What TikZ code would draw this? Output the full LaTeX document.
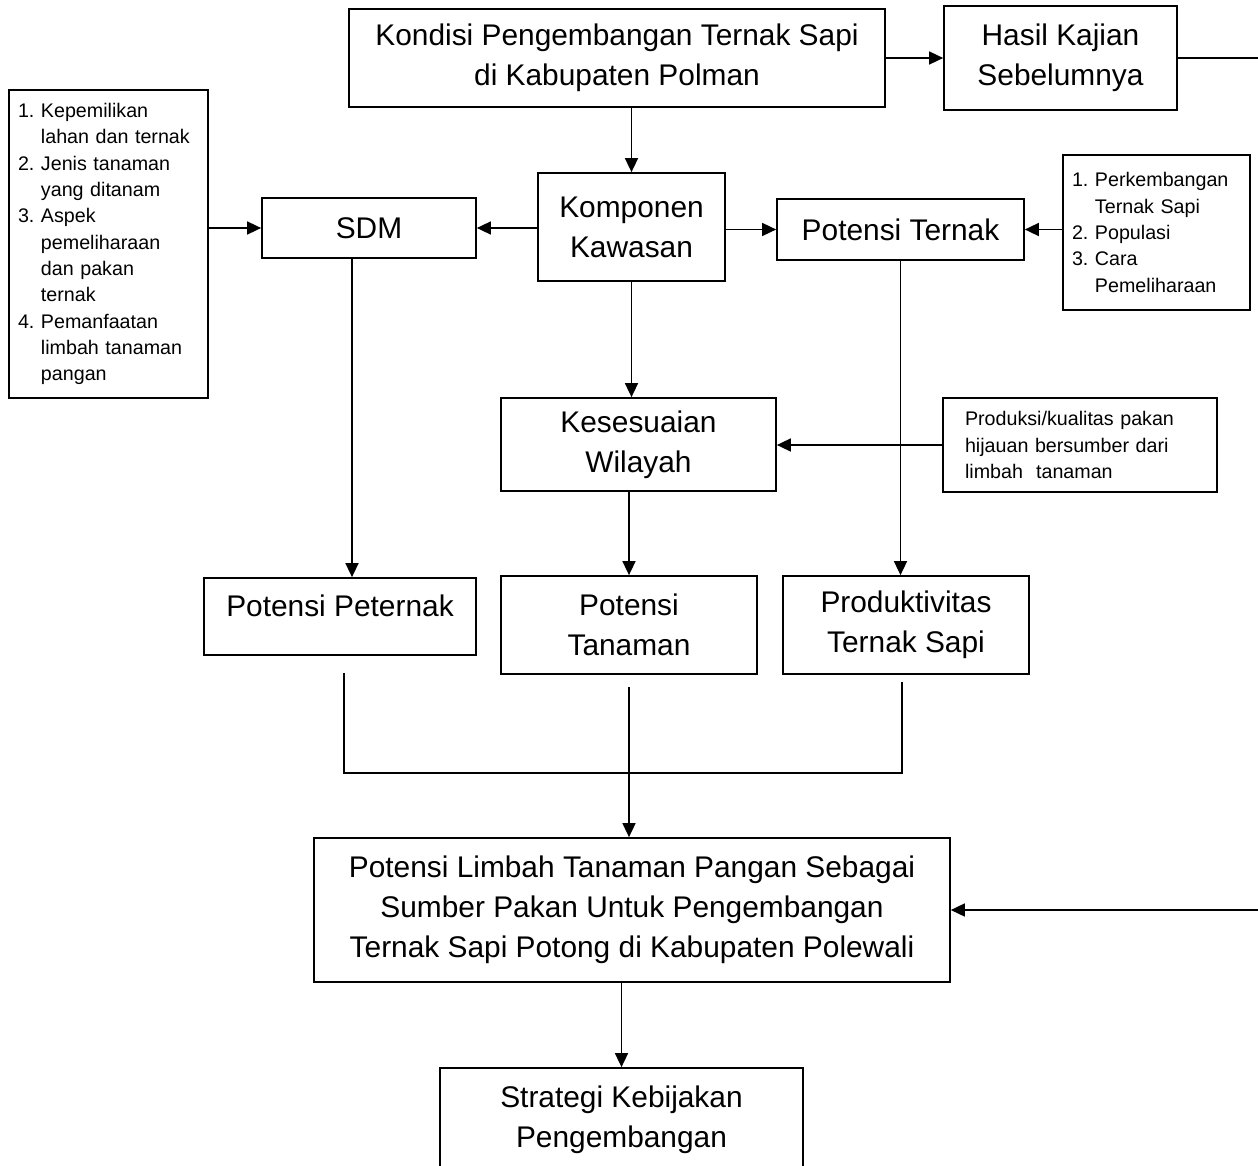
\documentclass[tikz,border=0pt]{standalone}
\usepackage{fontspec}
\setmainfont{Liberation Sans}
\usetikzlibrary{arrows.meta,positioning,calc}

\newcommand{\bigtxt}{\fontsize{17pt}{22.7pt}\selectfont}
\newcommand{\smalltxt}{\fontsize{11.2pt}{15pt}\selectfont}
\newcommand{\itm}[1]{\hphantom{#1.~}}

\begin{document}
\begin{tikzpicture}[x=0.02cm, y=-0.02cm,
    box/.style={draw=black, line width=1pt, align=center, font=\bigtxt, inner sep=0pt},
    listbox/.style={draw=black, line width=1pt, align=left, font=\smalltxt, inner sep=0pt},
    arr/.style={-{Triangle[length=0.28cm, width=0.26cm]}, line width=0.9pt},
    link/.style={line width=0.9pt}]
  \useasboundingbox (0,0) rectangle (1258,1166);

  % top row
  \node[box, minimum width=10.72cm, minimum height=1.96cm] (kondisi) at (617,58) {Kondisi Pengembangan Ternak Sapi\\ di Kabupaten Polman};
  \node[box, minimum width=4.66cm, minimum height=2.08cm] (hasil) at (1060.5,58) {Hasil Kajian\\ Sebelumnya};

  % second row
  \node[listbox, minimum width=3.98cm, minimum height=6.16cm, text width=3.62cm] (faktor) at (108.5,244)
    {1.~Kepemilikan\\ \itm{1}lahan dan ternak\\ 2.~Jenis tanaman\\ \itm{2}yang ditanam\\ 3.~Aspek\\ \itm{3}pemeliharaan\\ \itm{3}dan pakan\\ \itm{3}ternak\\ 4.~Pemanfaatan\\ \itm{4}limbah tanaman\\ \itm{4}pangan};
  \node[box, minimum width=4.28cm, minimum height=1.2cm] (sdm) at (369,228) {SDM};
  \node[box, minimum width=3.74cm, minimum height=2.16cm] (komponen) at (631.5,227) {Komponen\\ Kawasan};
  \node[box, minimum width=4.94cm, minimum height=1.22cm] (ternak) at (900.5,229.5) {Potensi Ternak};
  \node[listbox, minimum width=3.74cm, minimum height=3.1cm, text width=3.38cm] (perkembangan) at (1156.5,232.5)
    {1.~Perkembangan\\ \itm{1}Ternak Sapi\\ 2.~Populasi\\ 3.~Cara\\ \itm{3}Pemeliharaan};

  % third row
  \node[box, minimum width=5.5cm, minimum height=1.86cm] (kesesuaian) at (638.5,444.5) {Kesesuaian\\ Wilayah};
  \node[listbox, minimum width=5.48cm, minimum height=1.88cm, text width=4.6cm] (produksi) at (1080,445)
    {Produksi/kualitas pakan\\ hijauan bersumber dari\\ limbah\ \ tanaman};

  % fourth row
  \node[box, minimum width=5.44cm, minimum height=1.54cm] (peternak) at (340,616.5) {\raisebox{0.21cm}[\height][\depth]{Potensi Peternak}};
  \node[box, minimum width=5.12cm, minimum height=1.96cm] (tanaman) at (629,625) {Potensi\\ Tanaman};
  \node[box, minimum width=4.92cm, minimum height=1.96cm] (produktivitas) at (906,625) {Produktivitas\\ Ternak Sapi};

  % bottom
  \node[box, minimum width=12.72cm, minimum height=2.88cm] (potensi) at (632,910)
    {Potensi Limbah Tanaman Pangan Sebagai\\ Sumber Pakan Untuk Pengembangan\\ Ternak Sapi Potong di Kabupaten Polewali};
  \node[box, minimum width=7.26cm, minimum height=2.06cm] (strategi) at (621.5,1119.5) {Strategi Kebijakan\\ Pengembangan};

  \coordinate (rim) at (1262,0);
  \coordinate (join) at (628,773);

  % connectors
  \draw[arr] (komponen.north |- kondisi.south) -- (komponen.north);
  \draw[arr] (kondisi.east) -- (kondisi.east -| hasil.west);
  \draw[arr] (hasil.east) -- (hasil.east -| rim) |- (potensi.east);
  \draw[arr] (komponen.west |- sdm) -- (sdm.east);
  \draw[arr] (faktor.east |- sdm) -- (sdm.west);
  \draw[arr] (komponen.east |- ternak) -- (ternak.west);
  \draw[arr] (perkembangan.west |- ternak) -- (ternak.east);
  \draw[arr] (komponen.south) -- (komponen.south |- kesesuaian.north);
  \draw[arr] (produksi.west) -- (produksi.west -| kesesuaian.east);
  \draw[arr] ([xshift=-0.34cm]sdm.south) -- ([xshift=-0.34cm]sdm.south |- peternak.north);
  \draw[arr] (ternak.south) -- (ternak.south |- produktivitas.north);
  \draw[arr] (tanaman.north |- kesesuaian.south) -- (tanaman.north);
  \draw[link] ([xshift=0.08cm, yshift=-0.34cm]peternak.south) |- (join) -| ([xshift=-0.08cm, yshift=-0.14cm]produktivitas.south);
  \draw[arr] ([yshift=-0.24cm]tanaman.south) -- (tanaman.south |- potensi.north);
  \draw[arr] (strategi.north |- potensi.south) -- (strategi.north);
\end{tikzpicture}
\end{document}
